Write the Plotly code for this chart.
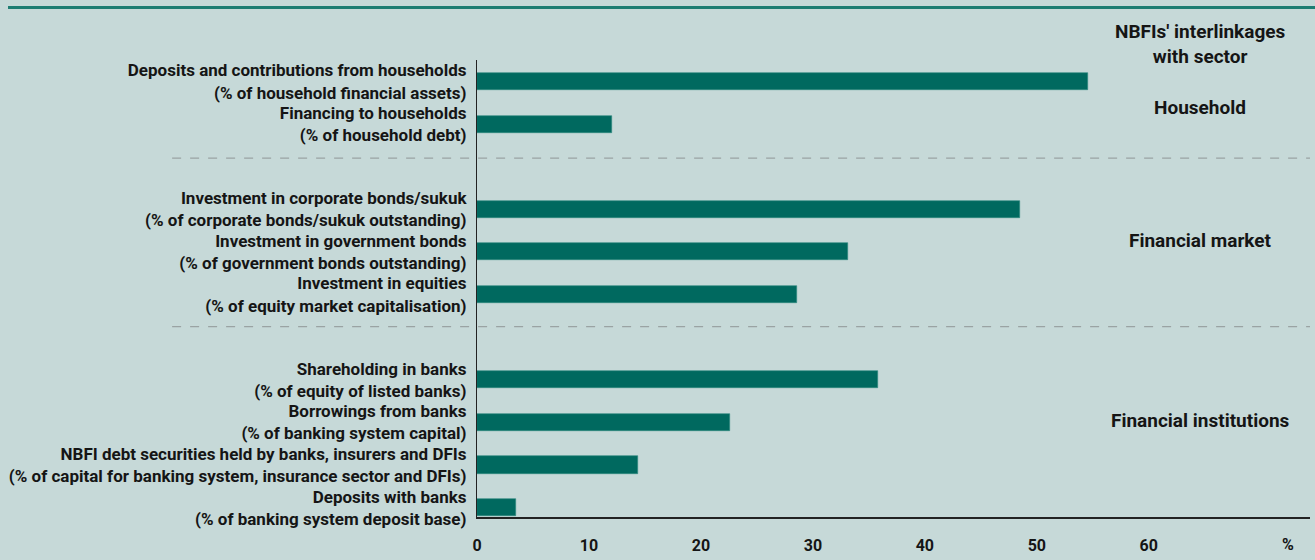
import plotly.graph_objects as go

# ---- data ----
categories = [
    "Deposits and contributions from households",
    "Financing to households",
    "Investment in corporate bonds/sukuk",
    "Investment in government bonds",
    "Investment in equities",
    "Shareholding in banks",
    "Borrowings from banks",
    "NBFI debt securities held by banks, insurers and DFIs",
    "Deposits with banks",
]
subtitles = [
    "(% of household financial assets)",
    "(% of household debt)",
    "(% of corporate bonds/sukuk outstanding)",
    "(% of government bonds outstanding)",
    "(% of equity market capitalisation)",
    "(% of equity of listed banks)",
    "(% of banking system capital)",
    "(% of capital for banking system, insurance sector and DFIs)",
    "(% of banking system deposit base)",
]
values = [54.6, 12.1, 48.5, 33.1, 28.6, 35.8, 22.6, 14.4, 3.5]
groups = [0, 0, 1, 1, 1, 2, 2, 2, 2]
sector_labels = ["Household", "Financial market", "Financial institutions"]
x_ticks = [0, 10, 20, 30, 40, 50, 60]

# ---- style ----
BG = "#c6d9d8"
BAR = "#00695f"
TEXT = "#151515"
FONT = "Roboto"

positions = [i + g for i, g in enumerate(groups)]
ticktext = [f"<b>{c}</b><br><b>{s}</b>" for c, s in zip(categories, subtitles)]

fig = go.Figure(
    go.Bar(
        x=values,
        y=positions,
        orientation="h",
        width=0.4,
        marker=dict(color=BAR, line=dict(color="#2f8a80", width=0.6)),
        hoverinfo="x",
    )
)

fig.update_layout(
    width=1315,
    height=560,
    paper_bgcolor=BG,
    plot_bgcolor=BG,
    margin=dict(l=477, r=5, t=60, b=39),
    showlegend=False,
    font=dict(family=FONT, color=TEXT, size=17),
    bargap=0,
)

fig.update_xaxes(
    range=[0, 74.4],
    tickvals=x_ticks,
    ticktext=[f"<b>{v}</b>" for v in x_ticks],
    showgrid=False,
    zeroline=False,
    showline=True,
    linecolor="#222222",
    linewidth=1.5,
    ticks="",
    ticklabelstandoff=13,
    tickfont=dict(size=16, color=TEXT),
)
fig.update_yaxes(
    range=[10.22, -0.505],
    tickvals=positions,
    ticktext=ticktext,
    showgrid=False,
    zeroline=False,
    showline=True,
    linecolor="#222222",
    linewidth=1.2,
    ticks="",
    ticklabelstandoff=6,
    tickfont=dict(size=17, color=TEXT),
)

# top rule
fig.add_shape(type="line", xref="paper", yref="paper",
              x0=-0.563, x1=1.006, y0=1.115, y1=1.115,
              line=dict(color="#1d7d72", width=3))

# dashed separators between sectors
for ysep in [1.8, 5.75]:
    fig.add_shape(type="line", xref="paper", yref="y",
                  x0=-0.366, x1=1.0, y0=ysep, y1=ysep,
                  line=dict(color="#9aa3a3", width=1.2, dash="dash"))

# header
fig.add_annotation(xref="paper", yref="paper", x=0.868, y=1.035,
                   text="<b>NBFIs' interlinkages</b><br><b>with sector</b>",
                   showarrow=False, font=dict(size=19, color=TEXT),
                   align="center", xanchor="center", yanchor="middle")

# sector labels
sector_y = [0.6, 3.73, 7.96]
for lbl, yy in zip(sector_labels, sector_y):
    fig.add_annotation(xref="paper", yref="y", x=0.868, y=yy,
                       text=f"<b>{lbl}</b>", showarrow=False,
                       font=dict(size=19, color=TEXT),
                       xanchor="center", yanchor="middle")

# unit label
fig.add_annotation(xref="paper", yref="paper", x=0.974, y=-0.061,
                   text="<b>%</b>", showarrow=False,
                   font=dict(size=16, color=TEXT),
                   xanchor="center", yanchor="middle")

fig.write_html("out.html")
